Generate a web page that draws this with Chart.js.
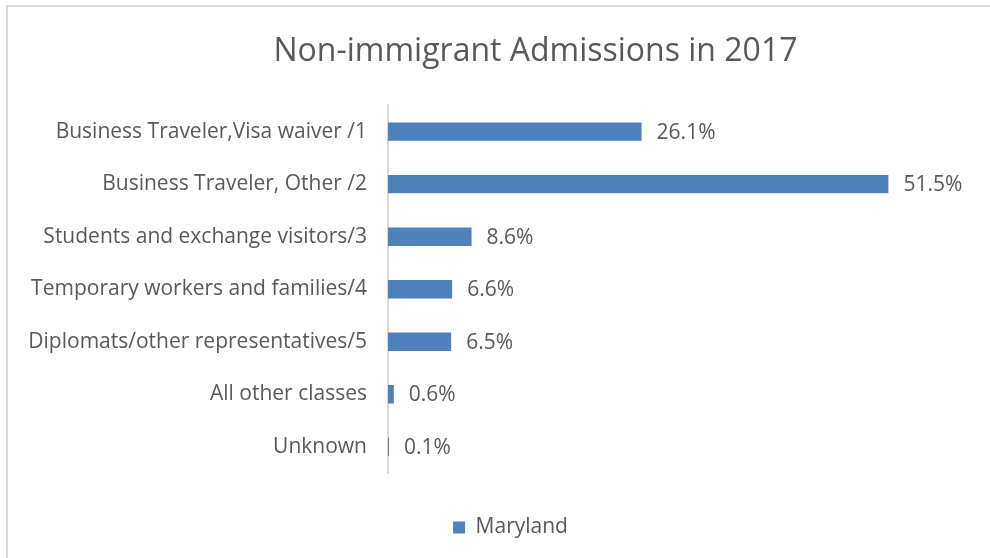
<!DOCTYPE html>
<html>
<head>
<meta charset="utf-8">
<script src="https://cdn.jsdelivr.net/npm/chart.js@4/dist/chart.umd.min.js"></script>
<style>
    html, body { margin: 0; background: #fff; overflow: hidden; }
    #wrap { position: relative; width: 990px; height: 558px; overflow: hidden; }
    #frame { position: absolute; left: 6px; top: 5px; width: 1000px; height: 600px;
             border-left: 2px solid #d9d9d9; border-top: 2px solid #d9d9d9; }
    canvas { position: absolute; left: 0; top: 0; }
</style>
</head>
<body>
<div id="wrap">
    <div id="frame"></div>
    <canvas id="chart" width="990" height="558"></canvas>
</div>
<script>
const categories = [
    'Business Traveler,Visa waiver /1',
    'Business Traveler, Other /2',
    'Students and exchange visitors/3',
    'Temporary workers and families/4',
    'Diplomats/other representatives/5',
    'All other classes',
    'Unknown'
];
const marylandValues = [26.1, 51.5, 8.6, 6.6, 6.5, 0.6, 0.1];

const textColor = '#595959';
const fontFamily = '"Open Sans", sans-serif';

// draws the percent labels at the end of each bar
const barLabels = {
    id: 'barLabels',
    afterDatasetsDraw(chart) {
        const ctx = chart.ctx;
        const meta = chart.getDatasetMeta(0);
        ctx.save();
        ctx.fillStyle = textColor;
        ctx.font = '21px ' + fontFamily;
        ctx.textBaseline = 'middle';
        ctx.textAlign = 'left';
        meta.data.forEach((bar, i) => {
            ctx.fillText(marylandValues[i].toFixed(1) + '%', bar.x + 15, bar.y + 1);
        });
        ctx.restore();
    }
};

// the original chart is wider than the picture, so title and legend sit right of centre
const shiftBoxes = {
    id: 'shiftBoxes',
    afterLayout(chart) {
        chart.titleBlock.left += 100;
        chart.legend.left += 50;
    }
};

const ctx = document.getElementById('chart').getContext('2d');
const chart = new Chart(ctx, {
    type: 'bar',
    data: {
        labels: categories,
        datasets: [{
            label: 'Maryland',
            data: marylandValues,
            backgroundColor: '#4f81bd',
            borderWidth: 0,
            categoryPercentage: 1,
            barPercentage: 0.35
        }]
    },
    options: {
        indexAxis: 'y',
        responsive: false,
        animation: false,
        devicePixelRatio: 1,
        layout: { padding: { left: 0, right: 19, top: 0, bottom: 10 } },
        scales: {
            x: {
                min: 0, max: 60,
                ticks: { display: false },
                grid: { display: false, drawTicks: false },
                border: { display: false },
                afterFit(scale) { scale.height = 36; }
            },
            y: {
                grid: { display: false, drawTicks: false },
                border: { display: true, color: '#d9d9d9', width: 2 },
                ticks: { color: textColor, font: { family: fontFamily, size: 21 }, padding: 21 },
                afterFit(scale) { scale.width = 388; }
            }
        },
        plugins: {
            title: {
                display: true,
                text: 'Non-immigrant Admissions in 2017',
                color: textColor,
                font: { family: fontFamily, size: 32, weight: 'normal' },
                padding: { top: 33, bottom: 34 }
            },
            legend: {
                position: 'bottom',
                labels: {
                    color: textColor,
                    font: { family: fontFamily, size: 21 },
                    boxWidth: 12,
                    boxHeight: 12,
                    padding: 8
                }
            },
            tooltip: { enabled: false }
        }
    },
    plugins: [barLabels, shiftBoxes]
});
</script>
</body>
</html>
